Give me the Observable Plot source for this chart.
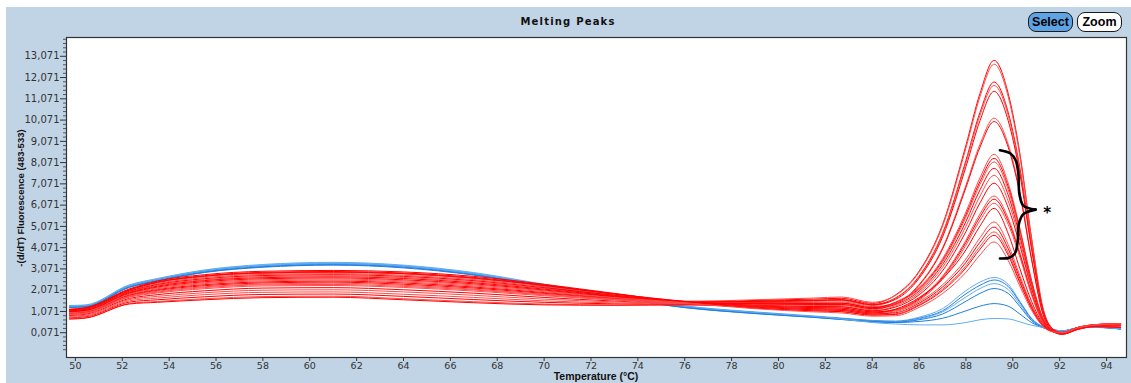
<!DOCTYPE html>
<html><head><meta charset="utf-8">
<script src="https://cdn.jsdelivr.net/npm/d3@7"></script>
<script src="https://cdn.jsdelivr.net/npm/@observablehq/plot@0.6"></script>
<style>
html,body{margin:0;padding:0;background:#fff;width:1131px;height:383px;overflow:hidden;}
#panel{position:absolute;left:6px;top:7px;width:1125px;height:376px;background:#c1d4e5;}
#chart{position:absolute;left:0;top:0;}
#title{position:absolute;left:568px;top:16px;transform:translateX(-50%);font-family:"DejaVu Sans",sans-serif;font-weight:bold;font-size:10px;letter-spacing:1.2px;color:#111;white-space:nowrap;}
#ylab{position:absolute;left:20px;top:198px;transform:translate(-50%,-50%) rotate(-90deg);font-family:"Liberation Sans",Arial,sans-serif;font-weight:bold;font-size:9.5px;color:#111;white-space:nowrap;line-height:11px;}
#xlab{position:absolute;left:596px;top:371px;transform:translateX(-50%);font-family:"Liberation Sans",Arial,sans-serif;font-weight:bold;font-size:10.5px;line-height:10.5px;color:#111;white-space:nowrap;}
.btn{position:absolute;top:12px;width:43px;height:18px;border:1px solid #1a1a1a;border-radius:8px;font-family:"Liberation Sans",Arial,sans-serif;font-weight:bold;font-size:12.5px;line-height:18px;text-align:center;color:#000;}
#sel{left:1028px;background:#5ea3e4;}
#zoom{left:1077px;background:#fff;}
</style>
</head><body>
<div id="panel"></div>
<div id="chart"></div>
<div id="title">Melting Peaks</div>
<div id="ylab"></div>
<div id="xlab"></div>
<div class="btn" id="sel">Select</div>
<div class="btn" id="zoom">Zoom</div>
<script>
// Temperatures (°C) at which every curve is sampled
const temps = [49.75, 50.45, 52.3, 53.5, 55.5, 58, 61, 64, 67, 70, 73, 76, 79, 81.5, 82.7, 84, 85, 86, 87, 88, 88.6, 89.2, 89.8, 90.3, 90.8, 91.3, 91.7, 92.1, 92.8, 93.5, 94.6];

// Red series (-d/dT fluorescence)
const redCurves = [
  [0.99,1.05,1.85,2.10,2.33,2.46,2.50,2.41,2.22,1.96,1.70,1.48, 1.59,1.65,1.69,1.45, 1.85,2.96,5.15,8.89,11.33,12.88,11.33,8.50,4.51,1.16,0.26, 0.05,0.30,0.42,0.48],
  [1.14,1.21,2.07,2.42,2.71,2.86,2.90,2.83,2.62,2.27,1.88,1.54, 1.62,1.70,1.75,1.50, 1.83,2.92,5.08,8.76,11.18,12.70,11.18,8.38,4.45,1.14,0.25, 0.08,0.33,0.45,0.50],
  [0.88,0.94,1.68,1.86,2.04,2.17,2.19,2.09,1.93,1.73,1.56,1.44, 1.56,1.60,1.63,1.40, 1.71,2.73,4.74,8.18,10.44,11.86,10.44,7.83,4.15,1.07,0.24, 0.02,0.26,0.38,0.40],
  [1.09,1.15,1.99,2.30,2.56,2.71,2.75,2.67,2.47,2.16,1.81,1.52, 1.53,1.55,1.58,1.35, 1.68,2.69,4.68,8.07,10.30,11.70,10.30,7.72,4.10,1.05,0.23, 0.04,0.28,0.40,0.44],
  [1.18,1.25,2.13,2.50,2.80,2.96,3.00,2.93,2.72,2.35,1.92,1.55, 1.54,1.58,1.61,1.38, 1.64,2.63,4.57,7.88,10.05,11.42,10.05,7.54,4.00,1.03,0.23, 0.05,0.30,0.42,0.48],
  [1.03,1.09,1.91,2.18,2.42,2.56,2.60,2.51,2.32,2.04,1.74,1.50, 1.49,1.50,1.52,1.30, 1.46,2.34,4.06,7.01,8.94,10.16,8.94,6.71,3.56,0.91,0.20, 0.00,0.24,0.36,0.32],
  [0.77,0.82,1.51,1.62,1.76,1.87,1.89,1.78,1.63,1.50,1.43,1.40, 1.46,1.45,1.46,1.25, 1.44,2.30,4.00,6.90,8.80,10.00,8.80,6.60,3.50,0.90,0.20, 0.08,0.33,0.45,0.50],
  [1.12,1.19,2.05,2.38,2.66,2.81,2.85,2.77,2.57,2.23,1.85,1.53, 1.43,1.40,1.40,1.20, 1.52,2.20,3.55,5.75,7.36,8.46,7.11,4.99,2.54,0.72,0.17, 0.02,0.26,0.38,0.40],
  [0.97,1.03,1.82,2.06,2.28,2.41,2.45,2.35,2.17,1.92,1.67,1.48, 1.46,1.45,1.46,1.25, 1.49,2.15,3.47,5.62,7.19,8.27,6.95,4.88,2.48,0.70,0.17, 0.04,0.28,0.40,0.44],
  [0.80,0.86,1.57,1.70,1.86,1.97,1.99,1.88,1.73,1.57,1.47,1.41, 1.40,1.35,1.35,1.15, 1.46,2.11,3.40,5.51,7.05,8.10,6.80,4.78,2.43,0.69,0.16, 0.05,0.30,0.42,0.48],
  [1.07,1.13,1.96,2.26,2.52,2.66,2.70,2.62,2.42,2.12,1.79,1.51, 1.43,1.40,1.40,1.20, 1.40,2.03,3.28,5.30,6.79,7.80,6.55,4.60,2.34,0.66,0.16, 0.00,0.24,0.36,0.32],
  [0.92,0.98,1.74,1.94,2.14,2.27,2.29,2.20,2.03,1.81,1.61,1.45, 1.36,1.30,1.29,1.10, 1.34,1.94,3.14,5.08,6.50,7.47,6.27,4.41,2.24,0.63,0.15, 0.08,0.33,0.45,0.50],
  [1.16,1.23,2.10,2.46,2.75,2.91,2.95,2.88,2.67,2.31,1.90,1.54, 1.36,1.30,1.29,1.10, 1.28,1.85,2.98,4.83,6.18,7.10,5.96,4.19,2.13,0.60,0.14, 0.02,0.26,0.38,0.40],
  [0.73,0.78,1.45,1.54,1.67,1.77,1.79,1.67,1.53,1.42,1.38,1.39, 1.33,1.25,1.23,1.05, 1.17,1.69,2.73,4.42,5.66,6.50,5.46,3.84,1.95,0.55,0.13, 0.04,0.28,0.40,0.44],
  [1.05,1.11,1.93,2.22,2.47,2.61,2.65,2.56,2.37,2.08,1.76,1.50, 1.33,1.25,1.23,1.05, 1.14,1.65,2.67,4.32,5.52,6.35,5.33,3.75,1.91,0.54,0.13, 0.05,0.30,0.42,0.48],
  [0.95,1.01,1.79,2.02,2.23,2.36,2.40,2.30,2.12,1.88,1.65,1.47, 1.30,1.20,1.17,1.00, 1.11,1.60,2.59,4.19,5.36,6.16,5.17,3.63,1.85,0.52,0.12, 0.00,0.24,0.36,0.32],
  [1.10,1.17,2.02,2.34,2.61,2.76,2.80,2.72,2.52,2.19,1.83,1.52, 1.30,1.20,1.17,1.00, 1.18,1.72,2.60,3.97,5.09,5.92,4.74,3.08,1.54,0.47,0.15, 0.08,0.33,0.45,0.50],
  [0.84,0.90,1.63,1.78,1.95,2.07,2.09,1.99,1.83,1.65,1.52,1.43, 1.27,1.15,1.12,0.95, 1.06,1.53,2.32,3.54,4.54,5.28,4.22,2.75,1.37,0.42,0.13, 0.02,0.26,0.38,0.40],
  [0.71,0.76,1.42,1.50,1.62,1.72,1.74,1.62,1.48,1.38,1.36,1.38, 1.27,1.15,1.12,0.95, 1.01,1.46,2.22,3.38,4.33,5.04,4.03,2.62,1.31,0.40,0.13, 0.04,0.28,0.40,0.44],
  [1.01,1.07,1.88,2.14,2.38,2.51,2.55,2.46,2.27,2.00,1.72,1.49, 1.23,1.10,1.06,0.90, 0.96,1.39,2.12,3.22,4.14,4.81,3.85,2.50,1.25,0.38,0.12, 0.05,0.30,0.42,0.48],
  [1.15,1.22,2.08,2.44,2.73,2.88,2.92,2.85,2.64,2.29,1.89,1.54, 1.23,1.10,1.06,0.90, 0.93,1.35,2.05,3.12,4.00,4.65,3.72,2.42,1.21,0.37,0.12, 0.00,0.24,0.36,0.32],
  [0.94,0.99,1.77,1.98,2.19,2.32,2.34,2.25,2.08,1.85,1.63,1.46, 1.20,1.05,1.00,0.85, 0.87,1.26,1.91,2.91,3.73,4.34,3.47,2.26,1.13,0.35,0.11, 0.08,0.33,0.45,0.50]
];

// Blue series
const blueCurves = [
  [1.35,1.38,2.32,2.62,3.02,3.28,3.38,3.25,2.90,2.35,1.82,1.33, 1.05,0.86,0.76,0.65, 0.62,0.80,1.20,2.05,2.45,2.67,2.35,1.55,0.75,0.35,0.22, 0.15,0.30,0.33,0.25],
  [1.30,1.33,2.27,2.57,2.97,3.22,3.32,3.20,2.85,2.30,1.78,1.30, 1.02,0.83,0.74,0.63, 0.60,0.75,1.10,1.90,2.30,2.55,2.25,1.50,0.72,0.33,0.22, 0.16,0.31,0.34,0.26],
  [1.28,1.31,2.24,2.54,2.94,3.19,3.30,3.18,2.83,2.28,1.76,1.28, 1.00,0.82,0.72,0.62, 0.58,0.72,1.05,1.75,2.15,2.38,2.10,1.40,0.68,0.32,0.22, 0.15,0.30,0.33,0.25],
  [1.27,1.30,2.22,2.52,2.92,3.17,3.27,3.15,2.80,2.26,1.74,1.26, 0.98,0.80,0.70,0.60, 0.56,0.68,0.95,1.55,1.92,2.15,1.92,1.30,0.64,0.31,0.21, 0.14,0.29,0.32,0.24],
  [1.26,1.28,2.20,2.50,2.90,3.15,3.25,3.12,2.78,2.24,1.72,1.25, 0.97,0.79,0.69,0.58, 0.55,0.60,0.75,1.10,1.32,1.44,1.32,0.95,0.55,0.30,0.20, 0.15,0.30,0.33,0.25],
  [1.32,1.36,2.30,2.60,3.00,3.25,3.35,3.22,2.87,2.32,1.80,1.32, 1.03,0.84,0.72,0.55, 0.48,0.44,0.44,0.55,0.68,0.74,0.72,0.58,0.42,0.32,0.22, 0.16,0.30,0.33,0.25]
];

const redColors = ["#ff0000", "#ff4a4a"];
const blueColors = ["#62acf2", "#1f7fe0", "#62acf2", "#1f7fe0", "#1f7fe0", "#62acf2"];

// Axis ticks
const xTicks = [50, 52, 54, 56, 58, 60, 62, 64, 66, 68, 70, 72, 74, 76, 78, 80, 82, 84, 86, 88, 90, 92, 94];
const yTicks = [0.071, 1.071, 2.071, 3.071, 4.071, 5.071, 6.071, 7.071, 8.071, 9.071, 10.071, 11.071, 12.071, 13.071];
const yMinor = d3.range(-5, 70).filter(k => k % 5 !== 0).map(k => +(0.071 + k * 0.2).toFixed(3));

// Annotation: brace and asterisk (data units)
const braceX = [89.45, 89.9, 90.12, 90.24, 90.28, 90.45, 90.97, 90.97, 90.45, 90.26, 90.2, 90.08, 89.85, 89.45];
const braceY = [8.65, 8.5, 8.18, 7.5, 6.6, 6.05, 5.86, 5.86, 5.65, 5.2, 4.3, 3.78, 3.6, 3.56];
const bracePart = ["u","u","u","u","u","u","u","l","l","l","l","l","l","l"];
const starX = [91.47];
const starY = [5.92];

const yLabel = "-(d/dT) Fluorescence (483-533)";
const xLabel = "Temperature (°C)";
document.getElementById("ylab").textContent = yLabel;
document.getElementById("xlab").textContent = xLabel;

const rows = [];
redCurves.forEach((c, j) => c.forEach((v, i) => rows.push({x: temps[i], y: v, id: "r" + j, color: redColors[j % 2]})));
const blueRows = [];
blueCurves.forEach((c, j) => c.forEach((v, i) => blueRows.push({x: temps[i], y: v, id: "b" + j, color: blueColors[j]})));
const brace = braceX.map((x, i) => ({x, y: braceY[i], part: bracePart[i]}));

const fmt = d => d.toFixed(3).replace(".", ",");

const chart = Plot.plot({
  width: 1131,
  height: 383,
  marginLeft: 66,
  marginRight: 5,
  marginTop: 37,
  marginBottom: 26,
  style: {background: "transparent", fontFamily: "'DejaVu Sans', sans-serif", fontSize: "10px", overflow: "visible"},
  x: {domain: [49.62, 94.85]},
  y: {domain: [-1.095, 13.955]},
  color: {type: "identity"},
  marks: [
    Plot.frame({fill: "white", stroke: null}),
    Plot.line(blueRows, {x: "x", y: "y", z: "id", stroke: "color", strokeWidth: 1, curve: "monotone-x"}),
    Plot.line(rows, {x: "x", y: "y", z: "id", stroke: "color", strokeWidth: 1, curve: "monotone-x"}),
    Plot.line(brace, {x: "x", y: "y", z: "part", stroke: "black", strokeWidth: 2.6, curve: "catmull-rom"}),
    Plot.text(starX.map((x, i) => ({x, y: starY[i]})), {x: "x", y: "y", text: () => "*", fontSize: 15, fontWeight: "bold", dy: 5, fill: "black"}),
    Plot.frame({stroke: "#333", strokeWidth: 1.2}),
    Plot.axisY(yTicks, {tickSize: 6, tickPadding: 1, tickFormat: fmt, label: null, color: "#333", fontSize: 10}),
    Plot.axisY(yMinor, {tickSize: 3, tickFormat: () => "", label: null, color: "#555"}),
    Plot.axisX(xTicks, {tickSize: 4, tickPadding: 0.5, label: null, color: "#333", fontSize: 9.5})
  ]
});
document.getElementById("chart").appendChild(chart);
</script>
</body></html>
